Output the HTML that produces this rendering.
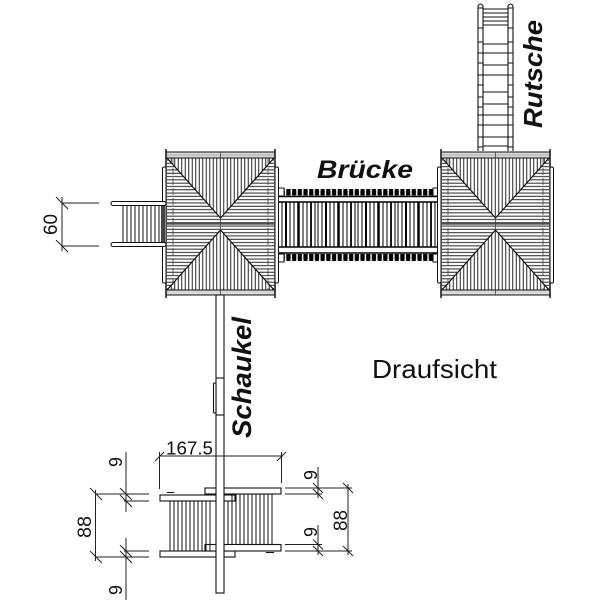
<!DOCTYPE html>
<html>
<head>
<meta charset="utf-8">
<style>
html,body{margin:0;padding:0;background:#fff;}
svg{display:block;}
text{font-family:"Liberation Sans",Arial,sans-serif;fill:#111;}
.lbl{font-weight:bold;font-style:italic;}
</style>
</head>
<body>
<svg width="600" height="600" viewBox="0 0 600 600" xmlns="http://www.w3.org/2000/svg" xmlns:xlink="http://www.w3.org/1999/xlink">
<defs>
  <pattern id="hH" patternUnits="userSpaceOnUse" width="10" height="3.3">
    <line x1="0" y1="1.65" x2="10" y2="1.65" stroke="#1a1a1a" stroke-width="0.95"/>
  </pattern>
  <pattern id="vV" patternUnits="userSpaceOnUse" width="3.5" height="10">
    <line x1="1.75" y1="0" x2="1.75" y2="10" stroke="#1a1a1a" stroke-width="0.95"/>
  </pattern>
  <pattern id="sq" patternUnits="userSpaceOnUse" x="280" y="0" width="5.7" height="10">
    <rect x="0.6" y="0" width="4.3" height="10" rx="0.8" fill="#000"/>
  </pattern>
  <pattern id="dots" patternUnits="userSpaceOnUse" x="284" y="0" width="16.5" height="10">
    <circle cx="8" cy="5" r="1.2" fill="#000"/>
  </pattern>
  <pattern id="slats" patternUnits="userSpaceOnUse" x="280" y="0" width="40" height="50">
    <line x1="2" y1="0" x2="2" y2="50" stroke="#000" stroke-width="1"/>
    <line x1="6" y1="0" x2="6" y2="50" stroke="#000" stroke-width="2"/>
    <line x1="10" y1="0" x2="10" y2="50" stroke="#000" stroke-width="1"/>
    <line x1="14" y1="0" x2="14" y2="50" stroke="#000" stroke-width="1"/>
    <line x1="18.5" y1="0" x2="18.5" y2="50" stroke="#000" stroke-width="2.5"/>
    <line x1="23" y1="0" x2="23" y2="50" stroke="#000" stroke-width="1"/>
    <line x1="27" y1="0" x2="27" y2="50" stroke="#000" stroke-width="1"/>
    <line x1="31" y1="0" x2="31" y2="50" stroke="#000" stroke-width="1.8"/>
    <line x1="35" y1="0" x2="35" y2="50" stroke="#000" stroke-width="1"/>
    <line x1="38" y1="0" x2="38" y2="50" stroke="#000" stroke-width="1"/>
  </pattern>

  <g id="tower">
    <rect x="1" y="158" width="107" height="132" fill="url(#hH)"/>
    <polygon points="1,158 108,158 54.5,218" fill="#fff"/>
    <polygon points="1,158 108,158 54.5,218" fill="url(#vV)"/>
    <polygon points="54.5,230 1,290 108,290" fill="#fff"/>
    <polygon points="54.5,230 1,290 108,290" fill="url(#vV)"/>
    <line x1="1" y1="224" x2="108" y2="224" stroke="#111" stroke-width="1"/>
    <path d="M1,158 L54.5,218 L108,158 M1,290 L54.5,230 L108,290" stroke="#111" stroke-width="1.2" fill="none"/>
    <line x1="7" y1="158" x2="7" y2="290" stroke="#444" stroke-width="0.8" stroke-dasharray="7,3"/>
    <line x1="102" y1="158" x2="102" y2="290" stroke="#444" stroke-width="0.8" stroke-dasharray="7,3"/>
    <line x1="54.5" y1="218" x2="54.5" y2="230" stroke="#444" stroke-width="0.8"/>
    <rect x="0" y="152" width="109" height="6" fill="#d8d8d8" stroke="#111" stroke-width="1"/>
    <line x1="0" y1="155" x2="109" y2="155" stroke="#888" stroke-width="0.6"/>
    <line x1="54.5" y1="152" x2="54.5" y2="158" stroke="#444" stroke-width="0.8"/>
    <rect x="0" y="290" width="109" height="5" fill="#d8d8d8" stroke="#111" stroke-width="1"/>
    <line x1="54.5" y1="290" x2="54.5" y2="295" stroke="#444" stroke-width="0.8"/>
    <line x1="0" y1="149" x2="0" y2="298" stroke="#111" stroke-width="1.5"/>
    <line x1="109" y1="149" x2="109" y2="298" stroke="#111" stroke-width="1.5"/>
    <rect x="-3.5" y="167" width="3.5" height="116" rx="1.5" fill="#fff" stroke="#111" stroke-width="1"/>
    <rect x="109" y="167" width="3.5" height="116" rx="1.5" fill="#fff" stroke="#111" stroke-width="1"/>
  </g>
</defs>

<rect x="0" y="0" width="600" height="600" fill="#fff"/>

<!-- Slide (Rutsche) -->
<g stroke="#111" fill="none">
  <g stroke-width="1">
    <line x1="483" y1="9" x2="508" y2="9"/>
    <line x1="483" y1="13" x2="508" y2="13"/>
    <line x1="483" y1="17" x2="508" y2="17"/>
    <line x1="483" y1="21" x2="508" y2="21"/>
    <line x1="483" y1="25" x2="508" y2="25"/>
    <line x1="483" y1="44" x2="508" y2="44"/>
    <line x1="483" y1="53" x2="508" y2="53"/>
    <line x1="483" y1="65" x2="508" y2="65"/>
    <line x1="483" y1="75" x2="508" y2="75"/>
    <line x1="483" y1="92" x2="508" y2="92"/>
    <line x1="483" y1="104" x2="508" y2="104"/>
    <line x1="483" y1="115" x2="508" y2="115"/>
    <line x1="483" y1="125" x2="508" y2="125"/>
    <line x1="483" y1="137" x2="508" y2="137"/>
    <line x1="483" y1="146" x2="508" y2="146"/>
  </g>
  <path d="M478,151 L478,6 Q480.5,2 483,6 L483,151" fill="#fff" stroke-width="1.1"/>
  <path d="M508,151 L508,6 Q510.5,2 513,6 L513,151" fill="#fff" stroke-width="1.1"/>
  <g stroke-width="1">
    <line x1="478" y1="8" x2="483" y2="8"/><line x1="508" y1="8" x2="513" y2="8"/>
    <line x1="478" y1="28" x2="483" y2="28"/><line x1="508" y1="28" x2="513" y2="28"/>
    <line x1="478" y1="42" x2="483" y2="42"/><line x1="508" y1="42" x2="513" y2="42"/>
    <line x1="478" y1="53" x2="483" y2="53"/><line x1="508" y1="53" x2="513" y2="53"/>
    <line x1="478" y1="63" x2="483" y2="63"/><line x1="508" y1="63" x2="513" y2="63"/>
    <line x1="478" y1="75" x2="483" y2="75"/><line x1="508" y1="75" x2="513" y2="75"/>
    <line x1="478" y1="85" x2="483" y2="85"/><line x1="508" y1="85" x2="513" y2="85"/>
    <line x1="478" y1="97" x2="483" y2="97"/><line x1="508" y1="97" x2="513" y2="97"/>
    <line x1="478" y1="107" x2="483" y2="107"/><line x1="508" y1="107" x2="513" y2="107"/>
    <line x1="478" y1="115" x2="483" y2="115"/><line x1="508" y1="115" x2="513" y2="115"/>
    <line x1="478" y1="125" x2="483" y2="125"/><line x1="508" y1="125" x2="513" y2="125"/>
    <line x1="478" y1="137" x2="483" y2="137"/><line x1="508" y1="137" x2="513" y2="137"/>
    <line x1="478" y1="147" x2="483" y2="147"/><line x1="508" y1="147" x2="513" y2="147"/>
  </g>
</g>

<!-- Bridge (Brücke) -->
<g>
  <rect x="280" y="189" width="153" height="6.5" fill="url(#sq)"/>
  <rect x="280" y="254" width="153" height="7" fill="url(#sq)"/>
  <rect x="280" y="202" width="161" height="45" fill="url(#slats)"/>
  <rect x="278" y="196.5" width="163" height="5.5" fill="url(#dots)"/>
  <rect x="278" y="247" width="163" height="6" fill="url(#dots)"/>
  <g stroke="#000" stroke-width="1.4">
    <line x1="278" y1="196.5" x2="441" y2="196.5"/>
    <line x1="278" y1="202" x2="441" y2="202"/>
    <line x1="278" y1="247" x2="441" y2="247"/>
    <line x1="278" y1="253" x2="441" y2="253"/>
  </g>
  <g fill="#fff" stroke="#111" stroke-width="1">
    <rect x="277" y="188" width="7" height="8"/>
    <rect x="277" y="254" width="7" height="8"/>
    <rect x="433" y="188" width="8" height="8"/>
    <rect x="433" y="254" width="8" height="8"/>
  </g>
</g>

<!-- Towers -->
<use href="#tower" xlink:href="#tower" transform="translate(166,0)"/>
<use href="#tower" xlink:href="#tower" transform="translate(441,0)"/>

<!-- Left steps -->
<g stroke="#111" fill="none">
  <g stroke-width="1">
    <line x1="123" y1="205.5" x2="123" y2="242.5"/>
    <line x1="127" y1="205.5" x2="127" y2="242.5"/>
    <line x1="131" y1="205.5" x2="131" y2="242.5"/>
    <line x1="135" y1="205.5" x2="135" y2="242.5"/>
    <line x1="139" y1="205.5" x2="139" y2="242.5"/>
    <line x1="143" y1="205.5" x2="143" y2="242.5"/>
    <line x1="147" y1="205.5" x2="147" y2="242.5"/>
    <line x1="151" y1="205.5" x2="151" y2="242.5"/>
    <line x1="155" y1="205.5" x2="155" y2="242.5"/>
    <line x1="159" y1="205.5" x2="159" y2="242.5"/>
  </g>
  <rect x="161" y="205.5" width="4" height="37" fill="#444" stroke="none"/>
  <rect x="111" y="201.5" width="55" height="4" rx="2" fill="#fff" stroke-width="1.1"/>
  <rect x="111" y="242.5" width="55" height="4" rx="2" fill="#fff" stroke-width="1.1"/>
</g>

<!-- Dimension 60 -->
<g stroke="#222" stroke-width="1" fill="none">
  <line x1="62" y1="197" x2="62" y2="251"/>
  <line x1="62" y1="203" x2="99" y2="203"/>
  <line x1="62" y1="246" x2="99" y2="246"/>
  <line x1="56" y1="197" x2="68" y2="209"/>
  <line x1="56" y1="240" x2="68" y2="252"/>
</g>
<text transform="translate(57,235) rotate(-90)" font-size="19" textLength="21" lengthAdjust="spacingAndGlyphs">60</text>

<!-- Swing seats -->
<g stroke="#111" fill="#fff" stroke-width="1.1">
  <rect x="160" y="495" width="75" height="6"/>
  <rect x="160" y="551" width="75" height="6"/>
  <rect x="205" y="488" width="76" height="6"/>
  <rect x="205" y="544.5" width="76" height="6.5"/>
</g>
<g stroke="#111" stroke-width="1">
  <line x1="170" y1="501" x2="170" y2="551"/>
  <line x1="174" y1="501" x2="174" y2="551"/>
  <line x1="178" y1="501" x2="178" y2="551"/>
  <line x1="182" y1="501" x2="182" y2="551"/>
  <line x1="186" y1="501" x2="186" y2="551"/>
  <line x1="190" y1="501" x2="190" y2="551"/>
  <line x1="194" y1="501" x2="194" y2="551"/>
  <line x1="198" y1="501" x2="198" y2="551"/>
  <line x1="202" y1="501" x2="202" y2="551"/>
  <line x1="206" y1="501" x2="206" y2="551"/>
  <line x1="210" y1="501" x2="210" y2="551"/>
  <line x1="228" y1="501" x2="228" y2="544.5"/>
  <line x1="232" y1="494" x2="232" y2="544.5"/>
  <line x1="236" y1="494" x2="236" y2="544.5"/>
  <line x1="240" y1="494" x2="240" y2="544.5"/>
  <line x1="244" y1="494" x2="244" y2="544.5"/>
  <line x1="248" y1="494" x2="248" y2="544.5"/>
  <line x1="252" y1="494" x2="252" y2="544.5"/>
  <line x1="256" y1="494" x2="256" y2="544.5"/>
  <line x1="260" y1="494" x2="260" y2="544.5"/>
  <line x1="264" y1="494" x2="264" y2="544.5"/>
  <line x1="268" y1="494" x2="268" y2="544.5"/>
  <line x1="272" y1="494" x2="272" y2="544.5"/>
  <line x1="167" y1="492.5" x2="174" y2="492.5"/>
  <line x1="266" y1="552.5" x2="274" y2="552.5"/>
</g>

<!-- Swing beam -->
<g stroke="#111" stroke-width="1.1" fill="#fff">
  <rect x="216" y="295" width="8" height="298"/>
  <rect x="213.5" y="383" width="2.5" height="30" rx="1"/>
  <line x1="216" y1="378" x2="224" y2="378"/>
  <line x1="216" y1="415" x2="224" y2="415"/>
</g>

<!-- Dimension 167.5 -->
<g stroke="#222" stroke-width="1" fill="none">
  <line x1="159" y1="456" x2="283" y2="456"/>
  <line x1="159.5" y1="452" x2="159.5" y2="489"/>
  <line x1="281.5" y1="452" x2="281.5" y2="483"/>
  <line x1="155" y1="461" x2="164" y2="452"/>
  <line x1="277" y1="461" x2="286" y2="452"/>
</g>
<text x="166" y="454.5" font-size="18" textLength="47" lengthAdjust="spacingAndGlyphs">167.5</text>

<!-- Left dimensions -->
<g stroke="#222" stroke-width="1" fill="none">
  <line x1="95" y1="494" x2="149" y2="494"/>
  <line x1="124" y1="501" x2="149" y2="501"/>
  <line x1="124" y1="551" x2="149" y2="551"/>
  <line x1="95" y1="557" x2="149" y2="557"/>
  <line x1="95.5" y1="490" x2="95.5" y2="561"/>
  <line x1="126" y1="452" x2="126" y2="512"/>
  <line x1="126" y1="538" x2="126" y2="600"/>
  <line x1="90" y1="488" x2="102" y2="500"/>
  <line x1="90" y1="551" x2="102" y2="563"/>
  <line x1="120" y1="488" x2="132" y2="500"/>
  <line x1="120" y1="495" x2="132" y2="507"/>
  <line x1="120" y1="545" x2="132" y2="557"/>
  <line x1="120" y1="551" x2="132" y2="563"/>
</g>
<text transform="translate(122,467) rotate(-90)" font-size="18">9</text>
<text transform="translate(122,595) rotate(-90)" font-size="18">9</text>
<text transform="translate(91,538) rotate(-90)" font-size="19" textLength="22" lengthAdjust="spacingAndGlyphs">88</text>

<!-- Right dimensions -->
<g stroke="#222" stroke-width="1" fill="none">
  <line x1="285" y1="488" x2="352" y2="488"/>
  <line x1="285" y1="494" x2="322" y2="494"/>
  <line x1="285" y1="544.5" x2="322" y2="544.5"/>
  <line x1="285" y1="551" x2="352" y2="551"/>
  <line x1="318" y1="467" x2="318" y2="498"/>
  <line x1="318" y1="525" x2="318" y2="555"/>
  <line x1="348" y1="484" x2="348" y2="555"/>
  <line x1="313" y1="483" x2="323" y2="493"/>
  <line x1="313" y1="489" x2="323" y2="499"/>
  <line x1="313" y1="539.5" x2="323" y2="549.5"/>
  <line x1="313" y1="546" x2="323" y2="556"/>
  <line x1="343" y1="483" x2="353" y2="493"/>
  <line x1="343" y1="546" x2="353" y2="556"/>
</g>
<text transform="translate(317,480) rotate(-90)" font-size="18">9</text>
<text transform="translate(317,537) rotate(-90)" font-size="18">9</text>
<text transform="translate(347,531) rotate(-90)" font-size="19" textLength="21" lengthAdjust="spacingAndGlyphs">88</text>

<!-- Labels -->
<text class="lbl" x="317" y="178" font-size="25" textLength="96" lengthAdjust="spacingAndGlyphs">Brücke</text>
<text class="lbl" transform="translate(542,128) rotate(-90)" font-size="26" textLength="108" lengthAdjust="spacingAndGlyphs">Rutsche</text>
<text class="lbl" transform="translate(251,438) rotate(-90)" font-size="27" textLength="121" lengthAdjust="spacingAndGlyphs">Schaukel</text>
<text x="372" y="378" font-size="26" textLength="125" lengthAdjust="spacingAndGlyphs">Draufsicht</text>
</svg>
</body>
</html>
